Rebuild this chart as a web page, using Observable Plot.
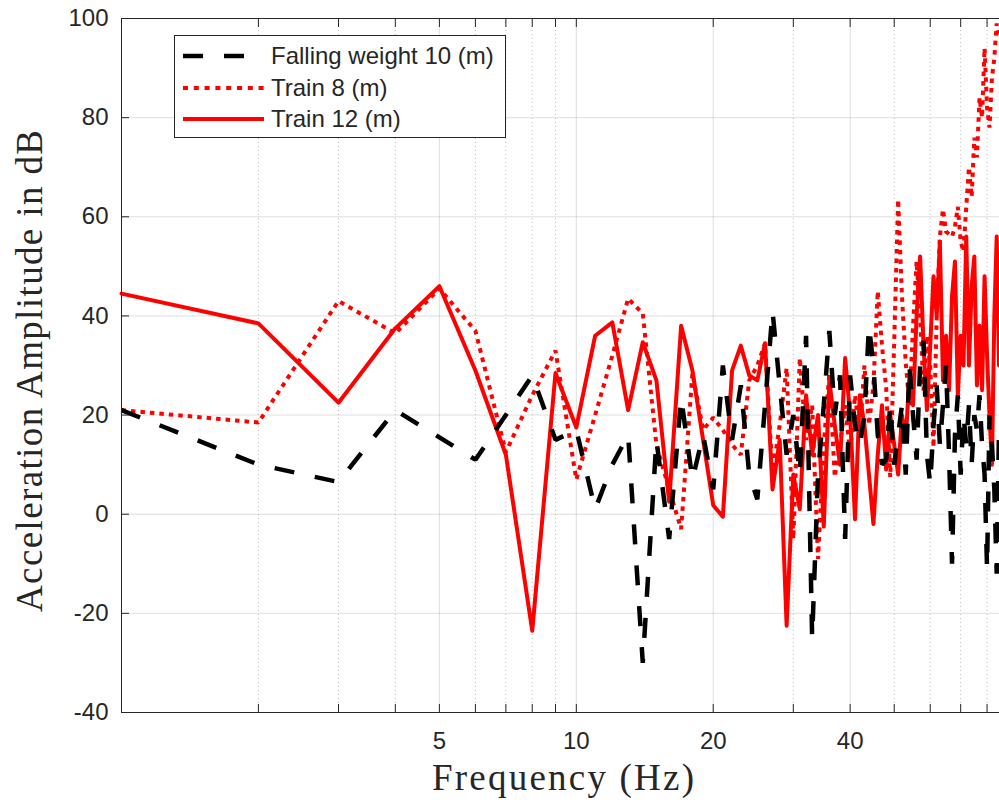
<!DOCTYPE html>
<html>
<head>
<meta charset="utf-8">
<script src="https://cdn.jsdelivr.net/npm/d3@7"></script>
<script src="https://cdn.jsdelivr.net/npm/@observablehq/plot@0.6"></script>
<style>
  html, body { margin: 0; padding: 0; background: #fff; }
  #wrap { position: relative; width: 999px; height: 807px; overflow: hidden; }
</style>
</head>
<body>
<div id="wrap"></div>
<script>
// ---- data ----
const freq = [1,2,3,4,5,6,7,8,9,10,11,12,13,14,15,16,17,18,19,20,21,22,23,24,25,26,27,28,29,30,
  31,32,33,34,35,36,37,38,39,40,41,42,43,44,45,46,47,48,49,50,51,52,53,54,55,56,57,58,59,60,
  61,62,63,64,65,66,67,68,69,70,71,72,73,74,75,76,77,78,79,80,81,82,83,84,85];

const fallingWeight = [21,10,6.5,21,15.5,11,20,28,15,17,
  1,10,16,-30,15,-5,23.5,7,16,5,
  30,15,26,8,3,22,41,26,12,20,
  8,36,-25,8,22,37,20,28,-5,28,
  18,14,20,38,30,16,10,11,22,10,
  16,22,8,30,20,11,30,35,12,6,
  18,26,14,22,30,12,-10,16,24,8,
  20,14,22,10,20,17,24,14,8,-11,
  20,14,5,-12,18];

const train8 = [21,18.5,43,36.5,45.5,37,12.5,24,33,7,
  20,32,43.5,40.5,14,5,-3,28.5,17,19.5,
  17,14,12,27,30,34.5,8,18,29.5,-5,
  31.5,15,22,-9,14,28.5,7.5,14,22,12,
  24,16,30,18,26,45,34,25.5,7.5,35,
  63.5,44,30.5,22,38,51,40,25,36,30,
  13.5,40,56,61.5,57,56.5,56,58,62,55,
  53,62,70,64,76,72,84,80,94,82,
  78,88,92,99,96];

const train12 = [44.5,38.5,22.5,37.5,46,29,12,-23.5,28.5,17.5,
  36,38.7,21,34.7,27,2.5,38,29,15,1.8,
  -0.5,29,34,28,27,34.5,5,15,-22.5,8,
  1,24,12,20,-2.5,27,18,10,31.5,20,
  -1,24,18,8,-2,12,22,9,20,14,
  8,20,15,28,22,40,52,34,21,34,
  48,40,55,27,36,25,44,51,24,36,
  30,56,30,46,52,26,38,25,48,32,
  20,10,40,56,30];

const seriesNames = ["Falling weight 10 (m)", "Train 8 (m)", "Train 12 (m)"];
const xTicksAll = [1,2,3,4,5,6,7,8,9,10,20,30,40,50,60,70,80];
const xTickLabels = [5,10,20,40];
const xMinorGrid = [2,3,4,6,7,8,9,30,50,60,70,80];
const yTicks = [-40,-20,0,20,40,60,80,100];
const xLabel = "Frequency (Hz)";
const yLabel = "Acceleration Amplitude in dB";

// ---- table built from the arrays ----
const rows = freq.map((f, i) => ({f, fw: fallingWeight[i], t8: train8[i], t12: train12[i]}));

const axisColor = "#262626";

const chart = Plot.plot({
  width: 999,
  height: 807,
  marginLeft: 121,
  marginRight: 0,
  marginTop: 18,
  marginBottom: 95,
  style: {fontFamily: "'Liberation Sans', Arial, sans-serif", fontSize: "24px", color: axisColor, background: "#fff", overflow: "visible"},
  x: {type: "log", domain: [1, 85.2]},
  y: {domain: [-40, 100]},
  marks: [
    Plot.gridY(yTicks, {stroke: axisColor, strokeOpacity: 0.15, strokeWidth: 1}),
    Plot.gridX(xMinorGrid, {stroke: axisColor, strokeOpacity: 0.3, strokeWidth: 1, strokeDasharray: "1,3"}),
    Plot.gridX(xTickLabels, {stroke: axisColor, strokeOpacity: 0.15, strokeWidth: 1}),
    Plot.line(rows, {x: "f", y: "t8", stroke: "#ff0000", strokeWidth: 4, strokeDasharray: "4.5,5", strokeLinecap: "butt", strokeLinejoin: "miter"}),
    Plot.line(rows, {x: "f", y: "t12", stroke: "#ff0000", strokeWidth: 4, strokeLinejoin: "round"}),
    Plot.line(rows, {x: "f", y: "fw", stroke: "#000000", strokeWidth: 4.5, strokeDasharray: "20,21", strokeLinecap: "butt", strokeLinejoin: "miter"}),
    Plot.ruleX([1], {stroke: axisColor, strokeWidth: 1}),
    Plot.ruleY([-40], {stroke: axisColor, strokeWidth: 1}),
    Plot.ruleY([100], {stroke: axisColor, strokeWidth: 1}),
    Plot.axisX(xTicksAll, {anchor: "bottom", tickSize: -8, tickFormat: () => "", label: null}),
    Plot.axisX(xTicksAll, {anchor: "top", tickSize: -8, tickFormat: () => "", label: null}),
    Plot.axisX(xTickLabels, {anchor: "bottom", tickSize: 0, tickPadding: 19, tickFormat: d => String(d), label: null}),
    Plot.axisY(yTicks, {anchor: "left", tickSize: -8, tickPadding: 21, tickFormat: d => String(d), label: null})
  ]
});

document.getElementById("wrap").appendChild(chart);

// ---- axis titles and legend (decoration) ----
const svg = d3.select(chart);
svg.append("text")
  .attr("x", 563).attr("y", 790)
  .attr("text-anchor", "middle")
  .attr("textLength", 262).attr("lengthAdjust", "spacing")
  .style("font-family", "'Liberation Serif', 'Times New Roman', serif")
  .style("font-size", "37px")
  .attr("fill", axisColor)
  .text(xLabel);

svg.append("text")
  .attr("transform", "translate(42,371) rotate(-90)")
  .attr("text-anchor", "middle")
  .attr("textLength", 482).attr("lengthAdjust", "spacing")
  .style("font-family", "'Liberation Serif', 'Times New Roman', serif")
  .style("font-size", "37px")
  .attr("fill", axisColor)
  .text(yLabel);

const lg = svg.append("g");
lg.append("rect")
  .attr("x", 174.5).attr("y", 35.5).attr("width", 331).attr("height", 102)
  .attr("fill", "#fff").attr("stroke", axisColor).attr("stroke-width", 1);

const legendStyles = [
  {stroke: "#000000", width: 4.5, dash: "20,21", cap: "butt", y: 56},
  {stroke: "#ff0000", width: 4, dash: "5,5.8", cap: "butt", y: 88},
  {stroke: "#ff0000", width: 4, dash: null, cap: "butt", y: 119}
];
legendStyles.forEach((s, i) => {
  const ln = lg.append("line")
    .attr("x1", 183).attr("x2", 264).attr("y1", s.y).attr("y2", s.y)
    .attr("stroke", s.stroke).attr("stroke-width", s.width).attr("stroke-linecap", s.cap);
  if (s.dash) ln.attr("stroke-dasharray", s.dash);
  lg.append("text")
    .attr("x", 271).attr("y", s.y + 8.3)
    .attr("text-anchor", "start")
    .style("font-family", "'Liberation Sans', Arial, sans-serif")
    .style("font-size", "24px")
    .attr("fill", axisColor)
    .text(seriesNames[i]);
});
</script>
</body>
</html>
